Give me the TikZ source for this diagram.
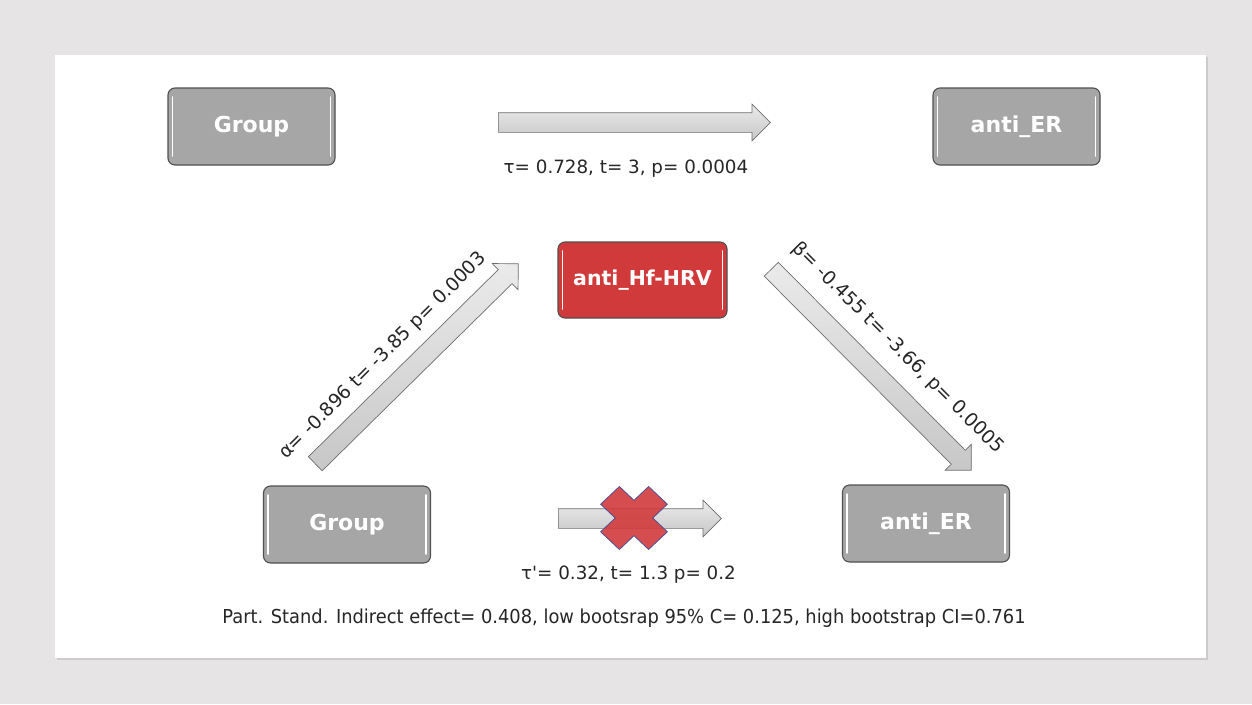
\documentclass[tikz,border=0pt]{standalone}
\usepackage{fontspec}
\setmainfont{DejaVu Sans}
\newfontfamily\narrowfont[FakeStretch=0.93]{DejaVu Sans}
\usetikzlibrary{shapes.arrows, calc}

\definecolor{bgcol}{HTML}{E6E4E5}
\definecolor{boxgray}{HTML}{A6A6A6}
\definecolor{boxline}{HTML}{505050}
\definecolor{boxred}{HTML}{D13A3B}
\definecolor{arrline}{HTML}{6E6E6E}
\definecolor{crossline}{HTML}{4E4F96}

\begin{document}
\begin{tikzpicture}[x=1pt, y=-1pt,
  var/.style={draw=boxline, line width=1.1pt, fill=boxgray, rounded corners=7pt,
    minimum width=167pt, minimum height=77pt, text=white,
    font=\fontsize{22}{26}\selectfont\bfseries,
    path picture={
      \draw[white, line width=1.8pt, line cap=round]
        ([xshift=4.5pt, yshift=-9pt]path picture bounding box.north west) --
        ([xshift=4.5pt, yshift=9pt]path picture bounding box.south west)
        ([xshift=-4.5pt, yshift=-9pt]path picture bounding box.north east) --
        ([xshift=-4.5pt, yshift=9pt]path picture bounding box.south east);}},
  stat/.style={text=black!85, font=\fontsize{18.3}{22}\selectfont},
  fat/.style={single arrow, draw=arrline, top color=black!8, bottom color=black!22,
    line width=0.7pt, inner xsep=0pt, inner ysep=9.5pt, text height=0pt, text depth=0pt,
    minimum width=0pt, single arrow head extend=8.5pt, single arrow head indent=0pt}
]
% background and panel
\fill[bgcol] (0,0) rectangle (1252,704);
\fill[black!20] (57,57) rectangle (1208,660);
\fill[white] (55,55) rectangle (1206,658);
\useasboundingbox (0,0) rectangle (1252,704);

% boxes
\node[var] (g1) at (251.5,126.5) {Group};
\node[var] (e1) at (1016.5,126.5) {anti\_ER};
\node[var, fill=boxred, minimum width=169pt, minimum height=76pt,
  font=\fontsize{20.5}{24}\selectfont\bfseries] (hrv) at (642.5,280) {anti\_Hf-HRV};
\node[var] (g2) at (347,524.5) {Group};
\node[var] (e2) at (926,523.5) {anti\_ER};

% arrow ends
\coordinate (a1) at (498,122.5);   \coordinate (a2) at (770,122.5);
\coordinate (b1) at (558,518.5);   \coordinate (b2) at (721,518.5);
\coordinate (c1) at (315,464);     \coordinate (c2) at (518,264);
\coordinate (d1) at (771,269);     \coordinate (d2) at (971,470);

\foreach \s/\t in {a1/a2, b1/b2, c1/c2, d1/d2}
  \path let \p1=($(\t)-(\s)$), \n1={veclen(\x1,\y1)} in
    (\s) -- (\t) node[fat, pos=0, anchor=tail, sloped, minimum height=\n1] {};

% not significant
\draw[crossline, fill=boxred, fill opacity=0.9, line width=0.8pt,
  shift={(634,518)}, xscale=1.06, rotate=45]
  (12.5,12.5) -- (12.5,32) -- (-12.5,32) -- (-12.5,12.5) -- (-32,12.5) -- (-32,-12.5) --
  (-12.5,-12.5) -- (-12.5,-32) -- (12.5,-32) -- (12.5,-12.5) -- (32,-12.5) -- (32,12.5) -- cycle;

% labels
\node[stat] (ltot) at (626,169) {τ= 0.728, t= 3, p= 0.0004};
\node[stat] (ldir) at (628.5,575) {τ\textquotesingle= 0.32, t= 1.3 p= 0.2};
\node[stat, font=\fontsize{18.8}{22}\selectfont, rotate=45] (la) at (383,356) {α= -0.896 t= -3.85 p= 0.0003};
\node[stat, font=\fontsize{18.8}{22}\selectfont, rotate=-45] (lb) at (898,348) {β= -0.455 t= -3.66, p= 0.0005};
\node[text=black!85, font=\narrowfont\fontsize{19.2}{22}\selectfont] (note) at (624,618)
  {Part. Stand. Indirect effect= 0.408, low bootsrap 95\% C= 0.125, high bootstrap CI=0.761};
\end{tikzpicture}
\end{document}
